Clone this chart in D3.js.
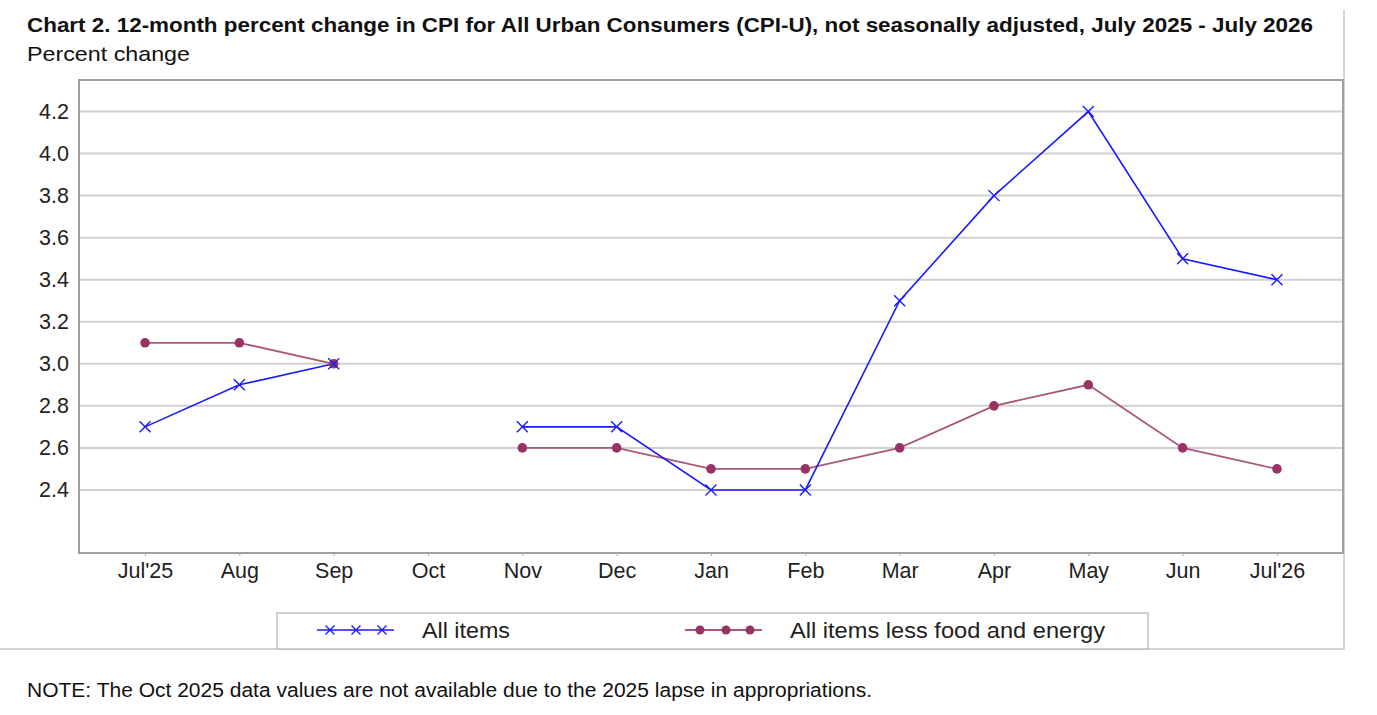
<!DOCTYPE html>
<html>
<head>
<meta charset="utf-8">
<script src="https://cdn.jsdelivr.net/npm/d3@7"></script>
<style>
  body { margin: 0; background: #fff; }
  svg { display: block; font-family: "Liberation Sans", Arial, sans-serif; }
</style>
</head>
<body>
<div id="chart"></div>
<script>
// chart data
const months = ["Jul'25", "Aug", "Sep", "Oct", "Nov", "Dec", "Jan", "Feb", "Mar", "Apr", "May", "Jun", "Jul'26"];
const allItems = [2.7, 2.9, 3.0, null, 2.7, 2.7, 2.4, 2.4, 3.3, 3.8, 4.2, 3.5, 3.4];
const coreItems = [3.1, 3.1, 3.0, null, 2.6, 2.6, 2.5, 2.5, 2.6, 2.8, 2.9, 2.6, 2.5];
const yTicks = [2.4, 2.6, 2.8, 3.0, 3.2, 3.4, 3.6, 3.8, 4.0, 4.2];

const width = 1377, height = 715;
const plot = { left: 79, right: 1343, top: 80, bottom: 553 };
const blue = "#1a1aff", purple = "#993366", purpleLine = "#a8587c";

const svg = d3.select("#chart").append("svg")
    .attr("width", width)
    .attr("height", height);

// outer frame (right + bottom only)
svg.append("path")
    .attr("d", "M1344,10 V649 H-1")
    .attr("fill", "none")
    .attr("stroke", "#c8c8c8")
    .attr("stroke-width", 1.5);

// titles
svg.append("text")
    .attr("x", 27).attr("y", 32)
    .attr("font-size", 20.5).attr("font-weight", "bold").attr("fill", "#111")
    .attr("textLength", 1286).attr("lengthAdjust", "spacingAndGlyphs")
    .text("Chart 2. 12-month percent change in CPI for All Urban Consumers (CPI-U), not seasonally adjusted, July 2025 - July 2026");
svg.append("text")
    .attr("x", 27).attr("y", 61)
    .attr("font-size", 21).attr("fill", "#111")
    .attr("textLength", 163).attr("lengthAdjust", "spacingAndGlyphs")
    .text("Percent change");

// scales
const x = d3.scalePoint()
    .domain(months)
    .range([plot.left, plot.right])
    .padding(0.7);
const y = d3.scaleLinear()
    .domain([2.1, 4.35])
    .range([plot.bottom, plot.top]);

// gridlines
svg.append("g")
    .selectAll("line")
    .data(yTicks)
    .join("line")
    .attr("x1", plot.left).attr("x2", plot.right)
    .attr("y1", d => y(d)).attr("y2", d => y(d))
    .attr("stroke", "#d0d0d0")
    .attr("stroke-width", 2);

// y labels
svg.append("g")
    .selectAll("text")
    .data(yTicks)
    .join("text")
    .attr("x", 69)
    .attr("y", d => y(d) + 7.5)
    .attr("text-anchor", "end")
    .attr("font-size", 21.5).attr("fill", "#222")
    .text(d => d.toFixed(1));

// plot border
svg.append("rect")
    .attr("x", plot.left).attr("y", plot.top)
    .attr("width", plot.right - plot.left)
    .attr("height", plot.bottom - plot.top)
    .attr("fill", "none")
    .attr("stroke", "#a0a0a0")
    .attr("stroke-width", 2);

// x axis
const xAxis = svg.append("g")
    .attr("transform", `translate(0,${plot.bottom})`)
    .call(d3.axisBottom(x).tickSize(3).tickPadding(7));
xAxis.select(".domain").remove();
xAxis.selectAll(".tick line").attr("stroke", "#aaa");
xAxis.selectAll(".tick text")
    .attr("font-size", 21.5)
    .attr("font-family", "Liberation Sans, Arial, sans-serif")
    .attr("fill", "#222");

// lines
const line = d3.line()
    .defined(d => d !== null)
    .x((d, i) => x(months[i]))
    .y(d => y(d));

svg.append("path")
    .datum(coreItems)
    .attr("fill", "none")
    .attr("stroke", purpleLine)
    .attr("stroke-width", 1.8)
    .attr("d", line);

svg.append("path")
    .datum(allItems)
    .attr("fill", "none")
    .attr("stroke", blue)
    .attr("stroke-width", 1.6)
    .attr("d", line);

// markers
function crossPath(cx, cy, r) {
  return `M${cx - r},${cy - r}L${cx + r},${cy + r}M${cx - r},${cy + r}L${cx + r},${cy - r}`;
}

svg.append("g")
    .selectAll("circle")
    .data(coreItems.map((v, i) => ({ v, m: months[i] })).filter(d => d.v !== null))
    .join("circle")
    .attr("cx", d => x(d.m))
    .attr("cy", d => y(d.v))
    .attr("r", 4.8)
    .attr("fill", purple);

svg.append("g")
    .selectAll("path")
    .data(allItems.map((v, i) => ({ v, m: months[i] })).filter(d => d.v !== null))
    .join("path")
    .attr("d", d => crossPath(x(d.m), y(d.v), 5.5))
    .attr("stroke", blue)
    .attr("stroke-width", 1.4)
    .attr("fill", "none");

// legend
const legend = svg.append("g");
legend.append("rect")
    .attr("x", 277).attr("y", 613)
    .attr("width", 871).attr("height", 36)
    .attr("fill", "#fff")
    .attr("stroke", "#c0c0c0")
    .attr("stroke-width", 1.5);

legend.append("line")
    .attr("x1", 317).attr("x2", 394).attr("y1", 630).attr("y2", 630)
    .attr("stroke", blue).attr("stroke-width", 1.6);
[330, 356, 382].forEach(cx => {
  legend.append("path")
      .attr("d", crossPath(cx, 630, 4.5))
      .attr("stroke", blue).attr("stroke-width", 1.4);
});
legend.append("text")
    .attr("x", 422).attr("y", 638)
    .attr("font-size", 21.5).attr("fill", "#222")
    .attr("textLength", 88).attr("lengthAdjust", "spacingAndGlyphs")
    .text("All items");

legend.append("line")
    .attr("x1", 685).attr("x2", 762).attr("y1", 630).attr("y2", 630)
    .attr("stroke", purpleLine).attr("stroke-width", 1.8);
[700, 726, 750].forEach(cx => {
  legend.append("circle")
      .attr("cx", cx).attr("cy", 630).attr("r", 4.5)
      .attr("fill", purple);
});
legend.append("text")
    .attr("x", 790).attr("y", 638)
    .attr("font-size", 21.5).attr("fill", "#222")
    .attr("textLength", 315).attr("lengthAdjust", "spacingAndGlyphs")
    .text("All items less food and energy");

// note
svg.append("text")
    .attr("x", 27).attr("y", 697)
    .attr("font-size", 20).attr("fill", "#111")
    .attr("textLength", 845).attr("lengthAdjust", "spacingAndGlyphs")
    .text("NOTE: The Oct 2025 data values are not available due to the 2025 lapse in appropriations.");
</script>
</body>
</html>
